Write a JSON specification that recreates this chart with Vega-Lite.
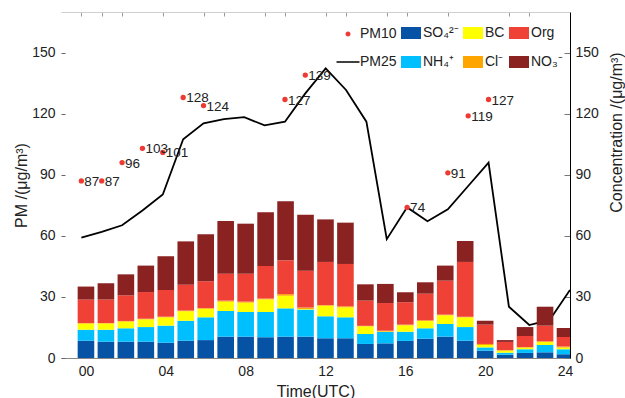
{
  "$schema": "https://vega.github.io/schema/vega-lite/v6.json",
  "width": 509,
  "height": 346,
  "autosize": {"type": "none"},
  "padding": {"left": 61, "top": 12, "right": 55, "bottom": 40},
  "config": {
    "font": "Liberation Sans",
    "view": {"stroke": null},
    "axis": {"labelFont": "Liberation Sans", "titleFont": "Liberation Sans", "labelFontSize": 14, "titleFontSize": 16, "titleFontWeight": "normal", "labelColor": "#222", "titleColor": "#222", "grid": false}
  },
  "datasets": {
    "pm25": [
      {"h": 0, "v": 59.1}, {"h": 1, "v": 62.0}, {"h": 2, "v": 65.2}, {"h": 3, "v": 72.5}, {"h": 4, "v": 80.3},
      {"h": 5, "v": 107.5}, {"h": 6, "v": 115.3}, {"h": 7, "v": 117.4}, {"h": 8, "v": 118.3}, {"h": 9, "v": 114.3},
      {"h": 10, "v": 116.1}, {"h": 11, "v": 130.0}, {"h": 12, "v": 142.3}, {"h": 13, "v": 131.7}, {"h": 14, "v": 116.1},
      {"h": 15, "v": 58.4}, {"h": 16, "v": 74.0}, {"h": 17, "v": 67.2}, {"h": 18, "v": 73.1}, {"h": 19, "v": 84.5},
      {"h": 20, "v": 96.0}, {"h": 21, "v": 25.2}, {"h": 22, "v": 16.2}, {"h": 23, "v": 18.7}, {"h": 24, "v": 33.4}
    ],
    "pm10": [
      {"h": 0, "v": 87}, {"h": 1, "v": 87}, {"h": 2, "v": 96}, {"h": 3, "v": 103}, {"h": 4, "v": 101},
      {"h": 5, "v": 128}, {"h": 6, "v": 124}, {"h": 10, "v": 127}, {"h": 11, "v": 139}, {"h": 16, "v": 74},
      {"h": 18, "v": 91}, {"h": 19, "v": 119}, {"h": 20, "v": 127}
    ],
    "bars": [
      {"h":0,"series":"SO₄²⁻","ord":1,"v":8.5},{"h":0,"series":"NH₄⁺","ord":2,"v":5.4},{"h":0,"series":"BC","ord":3,"v":3.0},{"h":0,"series":"Cl⁻","ord":4,"v":0.3},{"h":0,"series":"Org","ord":5,"v":11.5},{"h":0,"series":"NO₃⁻","ord":6,"v":6.4},
      {"h":1,"series":"SO₄²⁻","ord":1,"v":8.0},{"h":1,"series":"NH₄⁺","ord":2,"v":5.9},{"h":1,"series":"BC","ord":3,"v":3.0},{"h":1,"series":"Cl⁻","ord":4,"v":0.3},{"h":1,"series":"Org","ord":5,"v":11.5},{"h":1,"series":"NO₃⁻","ord":6,"v":8.0},
      {"h":2,"series":"SO₄²⁻","ord":1,"v":8.0},{"h":2,"series":"NH₄⁺","ord":2,"v":6.6},{"h":2,"series":"BC","ord":3,"v":3.3},{"h":2,"series":"Cl⁻","ord":4,"v":0.3},{"h":2,"series":"Org","ord":5,"v":12.6},{"h":2,"series":"NO₃⁻","ord":6,"v":10.3},
      {"h":3,"series":"SO₄²⁻","ord":1,"v":8.0},{"h":3,"series":"NH₄⁺","ord":2,"v":7.2},{"h":3,"series":"BC","ord":3,"v":3.8},{"h":3,"series":"Cl⁻","ord":4,"v":0.3},{"h":3,"series":"Org","ord":5,"v":13.1},{"h":3,"series":"NO₃⁻","ord":6,"v":13.0},
      {"h":4,"series":"SO₄²⁻","ord":1,"v":7.5},{"h":4,"series":"NH₄⁺","ord":2,"v":8.4},{"h":4,"series":"BC","ord":3,"v":4.1},{"h":4,"series":"Cl⁻","ord":4,"v":0.3},{"h":4,"series":"Org","ord":5,"v":13.1},{"h":4,"series":"NO₃⁻","ord":6,"v":16.6},
      {"h":5,"series":"SO₄²⁻","ord":1,"v":8.5},{"h":5,"series":"NH₄⁺","ord":2,"v":9.8},{"h":5,"series":"BC","ord":3,"v":4.7},{"h":5,"series":"Cl⁻","ord":4,"v":0.3},{"h":5,"series":"Org","ord":5,"v":12.7},{"h":5,"series":"NO₃⁻","ord":6,"v":21.3},
      {"h":6,"series":"SO₄²⁻","ord":1,"v":8.8},{"h":6,"series":"NH₄⁺","ord":2,"v":11.2},{"h":6,"series":"BC","ord":3,"v":4.2},{"h":6,"series":"Cl⁻","ord":4,"v":0.3},{"h":6,"series":"Org","ord":5,"v":13.2},{"h":6,"series":"NO₃⁻","ord":6,"v":23.1},
      {"h":7,"series":"SO₄²⁻","ord":1,"v":10.5},{"h":7,"series":"NH₄⁺","ord":2,"v":12.6},{"h":7,"series":"BC","ord":3,"v":4.6},{"h":7,"series":"Cl⁻","ord":4,"v":0.5},{"h":7,"series":"Org","ord":5,"v":13.2},{"h":7,"series":"NO₃⁻","ord":6,"v":25.9},
      {"h":8,"series":"SO₄²⁻","ord":1,"v":10.5},{"h":8,"series":"NH₄⁺","ord":2,"v":12.1},{"h":8,"series":"BC","ord":3,"v":4.6},{"h":8,"series":"Cl⁻","ord":4,"v":0.5},{"h":8,"series":"Org","ord":5,"v":13.7},{"h":8,"series":"NO₃⁻","ord":6,"v":24.6},
      {"h":9,"series":"SO₄²⁻","ord":1,"v":10.2},{"h":9,"series":"NH₄⁺","ord":2,"v":12.4},{"h":9,"series":"BC","ord":3,"v":6.2},{"h":9,"series":"Cl⁻","ord":4,"v":0.4},{"h":9,"series":"Org","ord":5,"v":16.0},{"h":9,"series":"NO₃⁻","ord":6,"v":26.4},
      {"h":10,"series":"SO₄²⁻","ord":1,"v":10.5},{"h":10,"series":"NH₄⁺","ord":2,"v":13.9},{"h":10,"series":"BC","ord":3,"v":6.2},{"h":10,"series":"Cl⁻","ord":4,"v":0.8},{"h":10,"series":"Org","ord":5,"v":16.6},{"h":10,"series":"NO₃⁻","ord":6,"v":29.0},
      {"h":11,"series":"SO₄²⁻","ord":1,"v":10.5},{"h":11,"series":"NH₄⁺","ord":2,"v":13.3},{"h":11,"series":"BC","ord":3,"v":0.3},{"h":11,"series":"Cl⁻","ord":4,"v":0.7},{"h":11,"series":"Org","ord":5,"v":18.1},{"h":11,"series":"NO₃⁻","ord":6,"v":27.5},
      {"h":12,"series":"SO₄²⁻","ord":1,"v":9.7},{"h":12,"series":"NH₄⁺","ord":2,"v":10.8},{"h":12,"series":"BC","ord":3,"v":5.2},{"h":12,"series":"Cl⁻","ord":4,"v":0.3},{"h":12,"series":"Org","ord":5,"v":21.2},{"h":12,"series":"NO₃⁻","ord":6,"v":20.9},
      {"h":13,"series":"SO₄²⁻","ord":1,"v":9.7},{"h":13,"series":"NH₄⁺","ord":2,"v":10.3},{"h":13,"series":"BC","ord":3,"v":4.9},{"h":13,"series":"Cl⁻","ord":4,"v":0.5},{"h":13,"series":"Org","ord":5,"v":20.8},{"h":13,"series":"NO₃⁻","ord":6,"v":20.3},
      {"h":14,"series":"SO₄²⁻","ord":1,"v":6.9},{"h":14,"series":"NH₄⁺","ord":2,"v":4.9},{"h":14,"series":"BC","ord":3,"v":3.8},{"h":14,"series":"Cl⁻","ord":4,"v":0.2},{"h":14,"series":"Org","ord":5,"v":12.4},{"h":14,"series":"NO₃⁻","ord":6,"v":8.0},
      {"h":15,"series":"SO₄²⁻","ord":1,"v":7.2},{"h":15,"series":"NH₄⁺","ord":2,"v":5.6},{"h":15,"series":"BC","ord":3,"v":0.2},{"h":15,"series":"Cl⁻","ord":4,"v":0.4},{"h":15,"series":"Org","ord":5,"v":13.6},{"h":15,"series":"NO₃⁻","ord":6,"v":9.4},
      {"h":16,"series":"SO₄²⁻","ord":1,"v":8.4},{"h":16,"series":"NH₄⁺","ord":2,"v":4.5},{"h":16,"series":"BC","ord":3,"v":3.2},{"h":16,"series":"Cl⁻","ord":4,"v":0.3},{"h":16,"series":"Org","ord":5,"v":11.0},{"h":16,"series":"NO₃⁻","ord":6,"v":4.9},
      {"h":17,"series":"SO₄²⁻","ord":1,"v":9.5},{"h":17,"series":"NH₄⁺","ord":2,"v":5.1},{"h":17,"series":"BC","ord":3,"v":3.6},{"h":17,"series":"Cl⁻","ord":4,"v":0.3},{"h":17,"series":"Org","ord":5,"v":13.1},{"h":17,"series":"NO₃⁻","ord":6,"v":5.6},
      {"h":18,"series":"SO₄²⁻","ord":1,"v":10.5},{"h":18,"series":"NH₄⁺","ord":2,"v":6.2},{"h":18,"series":"BC","ord":3,"v":4.3},{"h":18,"series":"Cl⁻","ord":4,"v":0.3},{"h":18,"series":"Org","ord":5,"v":16.7},{"h":18,"series":"NO₃⁻","ord":6,"v":7.4},
      {"h":19,"series":"SO₄²⁻","ord":1,"v":8.5},{"h":19,"series":"NH₄⁺","ord":2,"v":6.7},{"h":19,"series":"BC","ord":3,"v":4.8},{"h":19,"series":"Cl⁻","ord":4,"v":0.3},{"h":19,"series":"Org","ord":5,"v":26.9},{"h":19,"series":"NO₃⁻","ord":6,"v":10.3},
      {"h":20,"series":"SO₄²⁻","ord":1,"v":3.6},{"h":20,"series":"NH₄⁺","ord":2,"v":1.6},{"h":20,"series":"BC","ord":3,"v":1.2},{"h":20,"series":"Cl⁻","ord":4,"v":0.5},{"h":20,"series":"Org","ord":5,"v":9.5},{"h":20,"series":"NO₃⁻","ord":6,"v":1.9},
      {"h":21,"series":"SO₄²⁻","ord":1,"v":1.6},{"h":21,"series":"NH₄⁺","ord":2,"v":1.0},{"h":21,"series":"BC","ord":3,"v":1.0},{"h":21,"series":"Cl⁻","ord":4,"v":0.3},{"h":21,"series":"Org","ord":5,"v":4.0},{"h":21,"series":"NO₃⁻","ord":6,"v":0.9},
      {"h":22,"series":"SO₄²⁻","ord":1,"v":2.5},{"h":22,"series":"NH₄⁺","ord":2,"v":1.8},{"h":22,"series":"BC","ord":3,"v":0.8},{"h":22,"series":"Cl⁻","ord":4,"v":0.3},{"h":22,"series":"Org","ord":5,"v":5.4},{"h":22,"series":"NO₃⁻","ord":6,"v":4.4},
      {"h":23,"series":"SO₄²⁻","ord":1,"v":2.8},{"h":23,"series":"NH₄⁺","ord":2,"v":3.6},{"h":23,"series":"BC","ord":3,"v":1.5},{"h":23,"series":"Cl⁻","ord":4,"v":0.3},{"h":23,"series":"Org","ord":5,"v":7.7},{"h":23,"series":"NO₃⁻","ord":6,"v":9.3},
      {"h":24,"series":"SO₄²⁻","ord":1,"v":1.8},{"h":24,"series":"NH₄⁺","ord":2,"v":2.5},{"h":24,"series":"BC","ord":3,"v":0.9},{"h":24,"series":"Cl⁻","ord":4,"v":0.4},{"h":24,"series":"Org","ord":5,"v":4.7},{"h":24,"series":"NO₃⁻","ord":6,"v":4.4}
    ]
  },
  "layer": [
    {
      "data": {"name": "pm25"},
      "mark": {"type": "line", "color": "#000", "strokeWidth": 1.8, "clip": true},
      "encoding": {
        "x": {"field": "h", "type": "quantitative", "scale": {"domain": [-1, 24], "nice": false, "zero": false},
              "axis": {"orient": "top", "values": [0, 1, 2, 4, 6, 7, 9, 10, 12, 13, 15, 16, 18, 21, 22], "labels": false, "tickSize": -4, "tickColor": "#999", "domainColor": "#cfcfcf", "title": null}},
        "y": {"field": "v", "type": "quantitative", "scale": {"domain": [0, 170], "nice": false},
              "axis": {"orient": "right", "values": [0, 30, 60, 90, 120, 150], "tickSize": -6, "tickColor": "#777", "domainColor": "#000", "labelPadding": 11,
                       "title": "Concentration /(μg/m³)", "titleAngle": -90, "titleBaseline": "top", "titleAlign": "center", "titleX": 38, "titleY": 120}}
      }
    },
    {
      "data": {"name": "bars"},
      "mark": {"type": "bar", "size": 16.6, "clip": true, "orient": "vertical"},
      "encoding": {
        "x": {"field": "h", "type": "quantitative", "scale": {"domain": [-1, 24], "nice": false, "zero": false},
              "axis": {"orient": "bottom", "values": [0, 4, 8, 12, 16, 20, 24], "format": "02d", "ticks": false, "labelPadding": 6, "domainColor": "#888", "title": "Time(UTC)", "titlePadding": 5}},
        "y": {"field": "v", "type": "quantitative", "stack": "zero", "scale": {"domain": [0, 170], "nice": false},
              "axis": {"orient": "left", "values": [0, 30, 60, 90, 120, 150], "domain": false, "tickSize": -4, "tickColor": "#666", "labelPadding": 10, "title": "PM /(μg/m³)", "titlePadding": 2}},
        "order": {"field": "ord", "type": "quantitative"},
        "color": {"field": "series", "type": "nominal",
                  "scale": {"domain": ["PM10", "PM25", "SO₄²⁻", "NH₄⁺", "BC", "Cl⁻", "Org", "NO₃⁻"],
                            "range": ["#EE3A34", "#000000", "#0652A5", "#00BFFF", "#FFFF00", "#FFA500", "#EF4136", "#8A2222"]},
                  "legend": {"orient": "none", "legendX": 276, "legendY": 10, "columns": 4, "title": null, "padding": 0,
                             "symbolSize": 400, "symbolStrokeWidth": 1.5, "labelOffset": 1, "columnPadding": 1, "rowPadding": 9,
                             "labelFontSize": 14, "labelFont": "Liberation Sans", "labelColor": "#222",
                             "encode": {"symbols": {"update": {
                               "shape": {"signal": "datum.value === 'PM10' ? 'M-0.25,0A0.25,0.25,0,1,1,0.25,0A0.25,0.25,0,1,1,-0.25,0Z' : (datum.value === 'PM25' ? 'M-1.15,0L1.15,0' : 'M-1,-0.6L1,-0.6L1,0.6L-1,0.6Z')"},
                               "stroke": {"signal": "datum.value === 'PM25' ? '#000' : 'transparent'"},
                               "strokeWidth": {"value": 1.5},
                               "opacity": {"value": 1}
                             }}}}}
      }
    },
    {
      "data": {"name": "pm10"},
      "mark": {"type": "point", "filled": true, "size": 28, "color": "#EE3A34", "opacity": 1},
      "encoding": {
        "x": {"field": "h", "type": "quantitative", "scale": {"domain": [-1, 24], "nice": false, "zero": false}, "axis": null},
        "y": {"field": "v", "type": "quantitative", "scale": {"domain": [0, 170], "nice": false}, "axis": null}
      }
    },
    {
      "data": {"name": "pm10"},
      "mark": {"type": "text", "align": "left", "baseline": "middle", "dx": 3, "dy": 1, "fontSize": 13.5, "font": "Liberation Sans", "color": "#222"},
      "encoding": {
        "x": {"field": "h", "type": "quantitative", "scale": {"domain": [-1, 24], "nice": false, "zero": false}, "axis": null},
        "y": {"field": "v", "type": "quantitative", "scale": {"domain": [0, 170], "nice": false}, "axis": null},
        "text": {"field": "v", "type": "quantitative"}
      }
    }
  ],
  "resolve": {"scale": {"x": "independent", "y": "independent"}}
}
